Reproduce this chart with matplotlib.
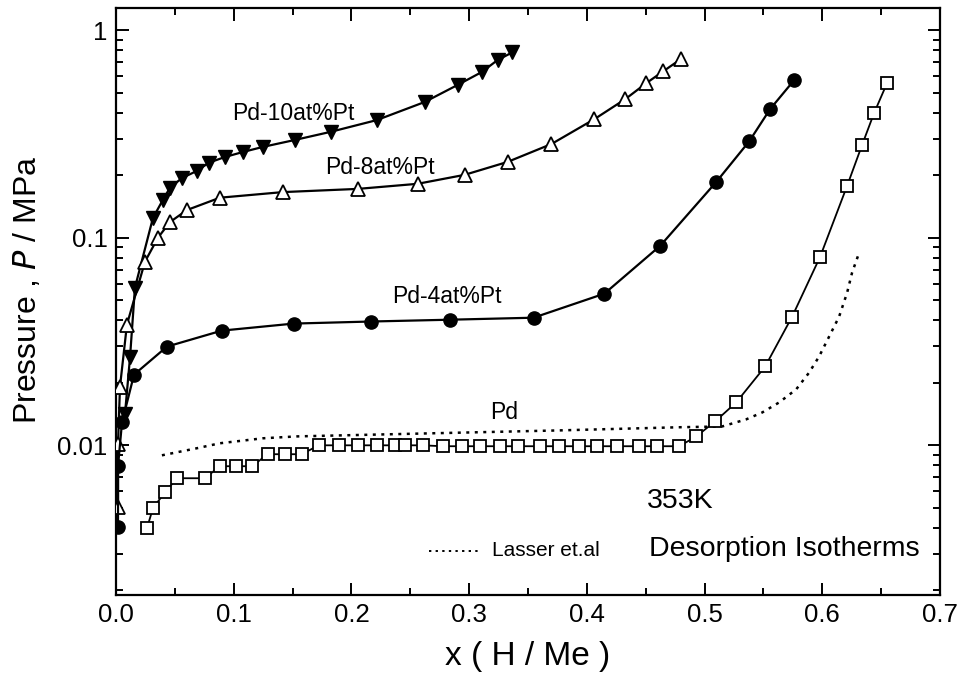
import matplotlib
matplotlib.use("Agg")
import matplotlib.pyplot as plt
from matplotlib.ticker import LogLocator, FixedLocator, MultipleLocator, NullFormatter, FuncFormatter

plt.rcParams['font.family'] = ['Liberation Sans', 'DejaVu Sans']

# Pd-10at%Pt (filled down triangles)
x_pt10 = [0.0076, 0.0119, 0.0161, 0.0314, 0.0399, 0.0458, 0.056, 0.0687, 0.0789, 0.0925,
          0.1078, 0.1247, 0.1519, 0.1824, 0.2215, 0.2622, 0.2902, 0.3105, 0.3241, 0.3368]
p_pt10 = [0.0141, 0.0265, 0.0575, 0.1247, 0.1525, 0.174, 0.194, 0.210, 0.230, 0.245,
          0.259, 0.274, 0.296, 0.324, 0.369, 0.451, 0.545, 0.628, 0.718, 0.783]

# Pd-8at%Pt (open up triangles)
x_pt8 = [0.0017, 0.0017, 0.0034, 0.0093, 0.0246, 0.0356, 0.0458, 0.0602, 0.0882, 0.1417,
         0.2053, 0.2562, 0.2961, 0.3326, 0.3699, 0.4064, 0.4327, 0.4505, 0.465, 0.480]
p_pt8 = [0.00503, 0.0101, 0.0192, 0.0382, 0.0767, 0.100, 0.119, 0.136, 0.156, 0.166,
         0.172, 0.182, 0.201, 0.232, 0.283, 0.373, 0.466, 0.556, 0.635, 0.727]

# Pd-4at%Pt (filled circles)
x_pt4 = [0.0017, 0.0017, 0.0051, 0.0153, 0.0433, 0.0899, 0.151, 0.217, 0.284, 0.3547,
         0.4149, 0.4624, 0.510, 0.538, 0.5557, 0.5761]
p_pt4 = [0.00403, 0.00793, 0.0129, 0.0219, 0.0299, 0.0357, 0.0386, 0.0395, 0.0403, 0.0412,
         0.0538, 0.0916, 0.186, 0.292, 0.417, 0.575]

# Pd (open squares)
x_pd = [0.0263, 0.0314, 0.0416, 0.0518, 0.0755, 0.0882, 0.1018, 0.1154, 0.129, 0.1434,
        0.1578, 0.1722, 0.1892, 0.2053, 0.2215, 0.2367, 0.2452, 0.2605, 0.2774, 0.2936,
        0.3088, 0.3258, 0.3411, 0.3598, 0.3767, 0.3937, 0.409, 0.4259, 0.4446, 0.4599,
        0.4785, 0.493, 0.509, 0.5269, 0.5515, 0.5744, 0.5982, 0.6211, 0.6338, 0.644, 0.655]
p_pd = [0.00399, 0.00498, 0.00594, 0.00694, 0.00694, 0.00793, 0.00793, 0.00793, 0.00906, 0.00906,
        0.00906, 0.0100, 0.0100, 0.0100, 0.0100, 0.0100, 0.0100, 0.0100, 0.0099, 0.0099,
        0.0099, 0.0099, 0.0099, 0.0099, 0.0099, 0.0099, 0.0099, 0.0099, 0.0099, 0.0099,
        0.0099, 0.01104, 0.01304, 0.0161, 0.0240, 0.0417, 0.0811, 0.178, 0.280, 0.399, 0.556]

# Lasser et al. (dotted)
x_lasser = [0.039, 0.0687, 0.0882, 0.1247, 0.1536, 0.2664, 0.3767, 0.4785, 0.515, 0.521,
            0.5354, 0.549, 0.5634, 0.5778, 0.5888, 0.5973, 0.6058, 0.6143, 0.6211, 0.6253, 0.6313]
p_lasser = [0.00895, 0.00968, 0.01023, 0.01081, 0.01104, 0.01142, 0.0118, 0.01222, 0.01233, 0.01262,
            0.01334, 0.0144, 0.0161, 0.0186, 0.0224, 0.0268, 0.0334, 0.0417, 0.0544, 0.0679, 0.0847]

x_ticks = [0.0, 0.1, 0.2, 0.3, 0.4, 0.5, 0.6, 0.7]
y_ticks = [0.01, 0.1, 1]
y_ticklabels = ['0.01', '0.1', '1']

fig = plt.figure(figsize=(9.6, 6.75), dpi=100)
ax = fig.add_axes([116/960, 1-595/675, (940-116)/960, (595-8)/675])

lw = 1.6
ax.plot(x_pt10, p_pt10, color='black', lw=lw, marker='v', ms=10.5, mfc='black', mec='black', zorder=3)
ax.plot(x_pt8, p_pt8, color='black', lw=lw, marker='^', ms=10.5, mfc='white', mec='black', mew=1.3, zorder=3)
ax.plot(x_pt4, p_pt4, color='black', lw=lw, marker='o', ms=9.5, mfc='black', mec='black', zorder=3)
ax.plot(x_pd, p_pd, color='black', lw=1.3, marker='s', ms=8, mfc='white', mec='black', mew=1.3, zorder=3)
ax.plot(x_lasser, p_lasser, color='black', lw=1.8, ls=(0, (1.2, 2.2)), zorder=2)

ax.set_yscale('log')
ax.set_xlim(0.0, 0.7)
ax.set_ylim(0.0019, 1.28)

ax.xaxis.set_major_locator(FixedLocator(x_ticks))
ax.xaxis.set_minor_locator(MultipleLocator(0.05))
ax.xaxis.set_major_formatter(FuncFormatter(lambda v, p: f"{v:.1f}"))
ax.yaxis.set_major_locator(FixedLocator(y_ticks))
ax.yaxis.set_major_formatter(FuncFormatter(lambda v, p: y_ticklabels[y_ticks.index(min(y_ticks, key=lambda t: abs(t - v)))]))
ax.yaxis.set_minor_locator(LogLocator(base=10, subs=range(2, 10)))
ax.yaxis.set_minor_formatter(NullFormatter())

ax.tick_params(which='both', direction='in', top=True, right=True, width=1.4, labelsize=18.5)
ax.tick_params(which='major', length=9, pad=6)
ax.tick_params(which='minor', length=5)
for s in ax.spines.values():
    s.set_linewidth(1.6)

ax.set_xlabel('x ( H / Me )', fontsize=24, labelpad=10)
ax.set_ylabel('Pressure , $\\mathit{P}$ / MPa', fontsize=23)
ax.yaxis.set_label_coords(-0.088, 0.52)

ax.text(0.151, 0.399, 'Pd-10at%Pt', fontsize=16.5, ha='center', va='center')
ax.text(0.224, 0.217, 'Pd-8at%Pt', fontsize=16.5, ha='center', va='center')
ax.text(0.281, 0.052, 'Pd-4at%Pt', fontsize=16.5, ha='center', va='center')
ax.text(0.330, 0.0144, 'Pd', fontsize=16.5, ha='center', va='center')
ax.text(0.479, 0.00538, '353K', fontsize=20.5, ha='center', va='center')
ax.text(0.568, 0.00316, 'Desorption Isotherms', fontsize=20.5, ha='center', va='center')

ax.plot([0.266, 0.310], [0.0031, 0.0031], color='black', lw=1.4, ls=(0, (1.2, 2.2)))
ax.text(0.319, 0.0031, 'Lasser et.al', fontsize=15, ha='left', va='center')

fig.savefig('out.png', dpi=100)
